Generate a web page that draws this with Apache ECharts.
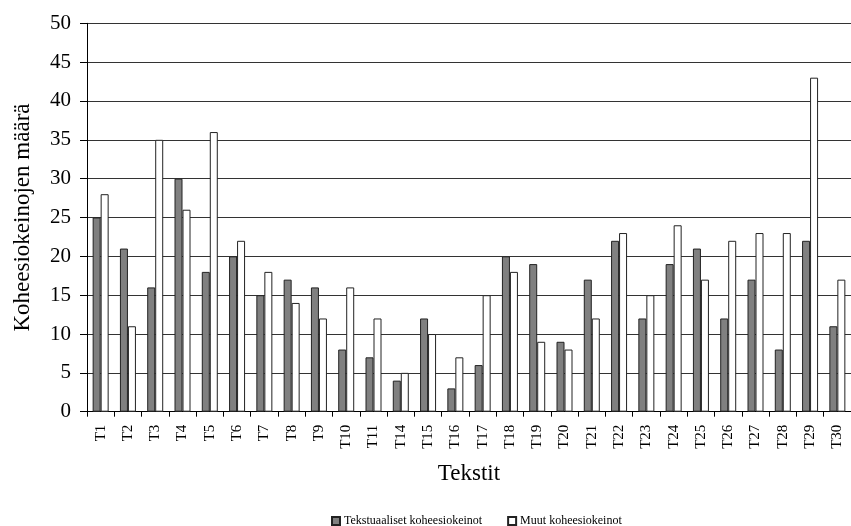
<!DOCTYPE html>
<html>
<head>
<meta charset="utf-8">
<script src="https://cdn.jsdelivr.net/npm/echarts@6/dist/echarts.min.js"></script>
<style>
html,body{margin:0;padding:0;background:#fff;overflow:hidden;}
#chart{width:851px;height:526px;}
</style>
</head>
<body>
<div id="chart"></div>
<script>
var categories = ['T1','T2','T3','T4','T5','T6','T7','T8','T9','T10','T11','T14','T15','T16','T17','T18','T19','T20','T21','T22','T23','T24','T25','T26','T27','T28','T29','T30'];
var tekstuaaliset = [25,21,16,30,18,20,15,17,16,8,7,4,12,3,6,20,19,9,17,22,12,19,21,12,17,8,22,11];
var muut = [28,11,35,26,36,22,18,14,12,16,12,5,10,7,15,18,9,8,12,23,15,24,17,22,23,23,43,17];
var yTicks = [0,5,10,15,20,25,30,35,40,45,50];
var seriesNames = ['Tekstuaaliset koheesiokeinot','Muut koheesiokeinot'];

var FONT = "'Liberation Serif', 'Times New Roman', serif";
var chart = echarts.init(document.getElementById('chart'), null, {renderer:'canvas'});
chart.setOption({
  animation: false,
  backgroundColor: '#fff',
  textStyle: {fontFamily: FONT, color: '#000'},
  grid: {left: 87, top: 23.3, width: 773, height: 388.4, containLabel: false},
  legend: {
    data: seriesNames,
    left: 326,
    top: 510,
    itemWidth: 8, itemHeight: 8, itemGap: 25,
    icon: 'rect',
    textStyle: {fontFamily: FONT, fontSize: 12, color: '#000', padding: [0,0,0,-1]}
  },
  xAxis: {
    type: 'category',
    data: categories,
    name: 'Tekstit',
    nameLocation: 'middle',
    nameGap: 51,
    nameTextStyle: {fontFamily: FONT, fontSize: 23, color: '#000'},
    axisLine: {lineStyle: {color: '#000', width: 1}},
    axisTick: {show: true, length: 5, lineStyle: {color: '#000'}},
    axisLabel: {rotate: 90, margin: 13, fontFamily: FONT, fontSize: 15, color: '#000', interval: 0},
    splitLine: {show: false}
  },
  yAxis: {
    type: 'value',
    min: yTicks[0], max: yTicks[yTicks.length-1], interval: 5,
    name: 'Koheesiokeinojen määrä',
    nameLocation: 'middle',
    nameGap: 53,
    nameRotate: 90,
    nameTextStyle: {fontFamily: FONT, fontSize: 23, color: '#000'},
    axisLine: {show: true, lineStyle: {color: '#000', width: 1}},
    axisTick: {show: true, length: 7, lineStyle: {color: '#000'}},
    axisLabel: {margin: 16, fontFamily: FONT, fontSize: 21, color: '#000'},
    splitLine: {show: true, lineStyle: {color: '#333', width: 1}}
  },
  series: [
    {
      name: seriesNames[0], type: 'bar', data: tekstuaaliset,
      barWidth: 8, barGap: '0%',
      itemStyle: {color: '#808080', borderColor: '#222', borderWidth: 1}
    },
    {
      name: seriesNames[1], type: 'bar', data: muut,
      barWidth: 8, barGap: '0%',
      itemStyle: {color: '#ffffff', borderColor: '#222', borderWidth: 1}
    }
  ]
});
</script>
</body>
</html>
